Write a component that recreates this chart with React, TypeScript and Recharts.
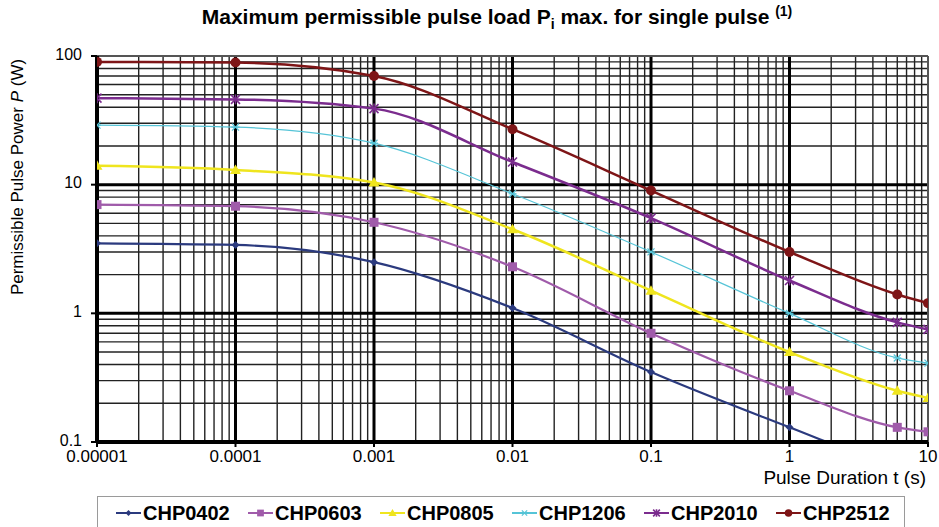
import React from "react";
import { LineChart, Line, XAxis, YAxis, ReferenceLine } from "recharts";

const durations = [0.00001, 0.0001, 0.001, 0.01, 0.1, 1, 6, 10];
const chp0402 = [3.5, 3.4, 2.5, 1.1, 0.35, 0.13, 0.062, 0.052];
const chp0603 = [7, 6.8, 5.1, 2.3, 0.7, 0.25, 0.13, 0.12];
const chp0805 = [14, 13, 10.4, 4.5, 1.5, 0.5, 0.25, 0.22];
const chp1206 = [29, 28, 21, 8.5, 3.0, 1.0, 0.45, 0.41];
const chp2010 = [47, 46, 39, 15, 5.5, 1.8, 0.85, 0.75];
const chp2512 = [90, 89, 70, 27, 9, 3, 1.4, 1.2];

const xTicks = [0.00001, 0.0001, 0.001, 0.01, 0.1, 1, 10];
const xTickLabels = ["0.00001", "0.0001", "0.001", "0.01", "0.1", "1", "10"];
const yTicks = [0.1, 1, 10, 100];
const yTickLabels = ["0.1", "1", "10", "100"];

const seriesNames = ["CHP0402", "CHP0603", "CHP0805", "CHP1206", "CHP2010", "CHP2512"];
const seriesValues = [chp0402, chp0603, chp0805, chp1206, chp2010, chp2512];
const seriesColors = ["#2B3A7E", "#A05BAA", "#EFE51E", "#55C4D7", "#7B2C8E", "#7E1517"];
const seriesShapes = ["diamond", "square", "triangle", "asterisk", "star", "circle"];
const seriesWidths = [2.2, 2.2, 2.5, 1.2, 2.5, 2.5];

const data = durations.map((t, i) => {
  const row: any = { t };
  seriesNames.forEach((n, k) => (row[n] = seriesValues[k][i]));
  return row;
});

const minorX: number[] = [];
for (let e = -5; e < 1; e++) for (let m = 2; m <= 9; m++) minorX.push(m * Math.pow(10, e));
const minorY: number[] = [];
for (let e = -1; e < 2; e++) for (let m = 2; m <= 9; m++) minorY.push(m * Math.pow(10, e));
const majorX = [0.0001, 0.001, 0.01, 0.1, 1];
const majorY = [1, 10];

const FONT = "'Liberation Sans', Arial, Helvetica, sans-serif";

function Marker({ shape, cx, cy, color, scale = 1 }: any) {
  if (cx == null || cy == null || isNaN(cx) || isNaN(cy)) return null;
  const s = scale;
  switch (shape) {
    case "diamond":
      return <polygon points={`${cx},${cy - 4 * s} ${cx + 4 * s},${cy} ${cx},${cy + 4 * s} ${cx - 4 * s},${cy}`} fill={color} />;
    case "square":
      return <rect x={cx - 4.5 * s} y={cy - 4.5 * s} width={9 * s} height={9 * s} fill={color} />;
    case "triangle":
      return <polygon points={`${cx},${cy - 5.5 * s} ${cx + 5.5 * s},${cy + 4 * s} ${cx - 5.5 * s},${cy + 4 * s}`} fill={color} />;
    case "asterisk":
      return (
        <g stroke={color} strokeWidth={1.2}>
          <line x1={cx - 3.5 * s} y1={cy - 3.5 * s} x2={cx + 3.5 * s} y2={cy + 3.5 * s} />
          <line x1={cx - 3.5 * s} y1={cy + 3.5 * s} x2={cx + 3.5 * s} y2={cy - 3.5 * s} />
          <line x1={cx - 4 * s} y1={cy} x2={cx + 4 * s} y2={cy} />
        </g>
      );
    case "star":
      return (
        <g stroke={color} strokeWidth={1.6}>
          <line x1={cx - 4.5 * s} y1={cy - 4.5 * s} x2={cx + 4.5 * s} y2={cy + 4.5 * s} />
          <line x1={cx - 4.5 * s} y1={cy + 4.5 * s} x2={cx + 4.5 * s} y2={cy - 4.5 * s} />
          <line x1={cx} y1={cy - 5 * s} x2={cx} y2={cy + 5 * s} />
        </g>
      );
    default:
      return <circle cx={cx} cy={cy} r={5 * s} fill={color} />;
  }
}

export default function App() {
  return (
    <div style={{ position: "absolute", left: 0, top: 0, width: 939, height: 527, background: "#fff", overflow: "hidden", fontFamily: FONT }}>
      <div
        style={{
          position: "absolute",
          left: 497,
          top: 3,
          transform: "translateX(-50%)",
          whiteSpace: "nowrap",
          fontWeight: "bold",
          fontSize: 21,
          color: "#000",
        }}
      >
        Maximum permissible pulse load P<sub style={{ fontSize: 14 }}>i</sub> max. for single pulse <sup style={{ fontSize: 14 }}>(1)</sup>
      </div>
      <LineChart
        width={939}
        height={527}
        data={data}
        margin={{ top: 56, right: 11, bottom: 55, left: 0 }}
      >
        {minorX.map((v) => (
          <ReferenceLine key={"mx" + v} x={v} stroke="#222" strokeWidth={1.4} />
        ))}
        {minorY.map((v) => (
          <ReferenceLine key={"my" + v} y={v} stroke="#222" strokeWidth={1.4} />
        ))}
        {majorX.map((v) => (
          <ReferenceLine key={"Mx" + v} x={v} stroke="#000" strokeWidth={3} />
        ))}
        {majorY.map((v) => (
          <ReferenceLine key={"My" + v} y={v} stroke="#000" strokeWidth={3} />
        ))}
        <ReferenceLine y={100} stroke="#555" strokeWidth={2} />
        <ReferenceLine x={10} stroke="#555" strokeWidth={2} />
        <XAxis
          dataKey="t"
          type="number"
          scale="log"
          domain={[0.00001, 10]}
          ticks={xTicks}
          tickFormatter={(v: number) => xTickLabels[xTicks.indexOf(v)] ?? String(v)}
          height={30}
          axisLine={{ stroke: "#000", strokeWidth: 4 }}
          tickLine={{ stroke: "#000", strokeWidth: 2 }}
          tickSize={5}
          tickMargin={3}
          tick={{ fill: "#000", fontSize: 17, fontFamily: FONT }}
          interval={0}
          allowDataOverflow
        />
        <YAxis
          type="number"
          scale="log"
          domain={[0.1, 100]}
          ticks={yTicks}
          tickFormatter={(v: number) => yTickLabels[yTicks.indexOf(v)] ?? String(v)}
          width={97}
          axisLine={{ stroke: "#000", strokeWidth: 4 }}
          tickLine={{ stroke: "#000", strokeWidth: 2 }}
          tickSize={6}
          tickMargin={9}
          tick={{ fill: "#000", fontSize: 16, fontFamily: FONT, dy: -2 }}
          interval={0}
          allowDataOverflow
        />
        {seriesNames.map((n, k) => (
          <Line
            key={n}
            dataKey={n}
            type="monotone"
            stroke={seriesColors[k]}
            strokeWidth={seriesWidths[k]}
            isAnimationActive={false}
            dot={(p: any) => <Marker key={n + "-" + p.index} shape={seriesShapes[k]} cx={p.cx} cy={p.cy} color={seriesColors[k]} />}
            activeDot={false}
          />
        ))}
      </LineChart>
      <div
        style={{
          position: "absolute",
          left: 18,
          top: 177,
          transform: "translate(-50%, -50%) rotate(-90deg)",
          whiteSpace: "nowrap",
          fontSize: 17,
          color: "#000",
        }}
      >
        Permissible Pulse Power <i>P</i> (W)
      </div>
      <div
        style={{
          position: "absolute",
          right: 13,
          top: 467,
          whiteSpace: "nowrap",
          fontSize: 19,
          color: "#000",
        }}
      >
        Pulse Duration t (s)
      </div>
      <div
        style={{
          position: "absolute",
          left: 97,
          top: 496,
          width: 808,
          height: 40,
          border: "1px solid #9a9a9a",
          boxSizing: "border-box",
        }}
      >
        {seriesNames.map((n, k) => (
          <div
            key={n}
            style={{
              position: "absolute",
              left: 18 + k * 132,
              top: 4,
              height: 24,
              display: "flex",
              alignItems: "center",
              whiteSpace: "nowrap",
            }}
          >
            <svg width={27} height={14} style={{ display: "block" }}>
              <line x1={0} y1={7} x2={25} y2={7} stroke={seriesColors[k]} strokeWidth={2} />
              <Marker shape={seriesShapes[k]} cx={12.5} cy={7} color={seriesColors[k]} scale={0.75} />
            </svg>
            <span style={{ fontWeight: "bold", fontSize: 20, color: "#000" }}>{n}</span>
          </div>
        ))}
      </div>
    </div>
  );
}
